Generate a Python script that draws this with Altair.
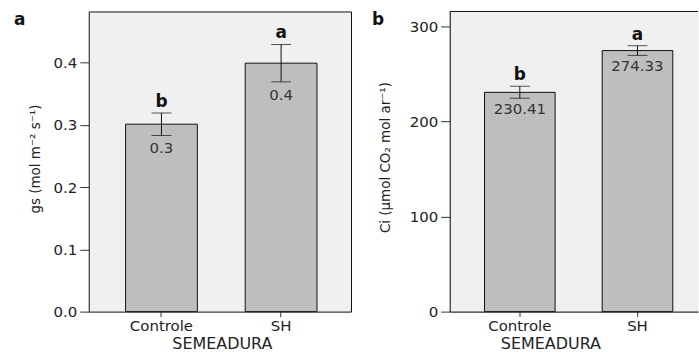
import altair as alt
import pandas as pd

groups = ["Controle", "SH"]
gs_mean = [0.301, 0.399]
gs_se = [0.018, 0.030]
gs_label = ["0.3", "0.4"]
gs_letter = ["b", "a"]

ci_mean = [230.41, 274.33]
ci_se = [6.3, 5.1]
ci_label = ["230.41", "274.33"]
ci_letter = ["b", "a"]

panel_tags = ["a", "b"]
gs_ticks = [0.0, 0.1, 0.2, 0.3, 0.4]
ci_ticks = [0, 100, 200, 300]

FONT = "DejaVu Sans"


def panel(mean, se, labels, letters, tag, ytitle, ydomain, yticks, yfmt,
          width, pad_outer, align, title_x, ytitle_x, ytitle_y, tag_x, tag_y,
          lab_dy, box):
    df = pd.DataFrame({"g": groups, "m": mean, "se": se,
                       "lab": labels, "let": letters})
    base = alt.Chart(df).transform_calculate(
        up="datum.m + datum.se", lo="datum.m - datum.se")
    xenc = alt.X("g:N", sort=groups,
                 scale=alt.Scale(paddingInner=0.4, paddingOuter=pad_outer, align=align),
                 axis=alt.Axis(title="SEMEADURA", labelAngle=0, domain=not box,
                               domainColor="black", tickSize=5, tickColor="#333",
                               labelFontSize=15, labelColor="#222", labelPadding=2,
                               titleFontSize=16, titleFontWeight="normal",
                               titleColor="#222", titlePadding=2, titleX=title_x))
    yscale = alt.Scale(domain=ydomain, nice=False, zero=True)
    yenc = alt.Y("m:Q", scale=yscale,
                 axis=alt.Axis(title=ytitle, values=yticks, format=yfmt, grid=False,
                               domain=not box, domainColor="black", tickSize=9,
                               tickColor="#333", labelFontSize=15, labelColor="#222",
                               labelPadding=3, titleFontSize=13.5,
                               titleFontWeight="normal", titleColor="#222",
                               titleX=ytitle_x, titleY=ytitle_y, titleBaseline="middle",
                               titleAlign="center", titleAngle=270))
    bars = base.mark_bar(color="#bebebe", stroke="#111", strokeWidth=1).encode(
        x=xenc, y=yenc)
    err = base.mark_rule(color="#111", strokeWidth=1).encode(
        x=alt.X("g:N", sort=groups), y=alt.Y("lo:Q"), y2="up:Q")
    cap_hi = base.mark_tick(color="#111", thickness=1, size=20).encode(
        x=alt.X("g:N", sort=groups), y=alt.Y("up:Q"))
    cap_lo = base.mark_tick(color="#111", thickness=1, size=20).encode(
        x=alt.X("g:N", sort=groups), y=alt.Y("lo:Q"))
    let = base.mark_text(baseline="alphabetic", dy=-6, fontSize=17,
                         fontWeight="bold", color="#111").encode(
        x=alt.X("g:N", sort=groups), y=alt.Y("up:Q"), text="let:N")
    lab = base.mark_text(baseline="top", dy=lab_dy, fontSize=15, color="#333").encode(
        x=alt.X("g:N", sort=groups), y=alt.Y("lo:Q"), text="lab:N")
    tagc = alt.Chart(pd.DataFrame({"t": [tag]})).mark_text(
        align="left", baseline="alphabetic", fontSize=17, fontWeight="bold",
        color="#111").encode(x=alt.value(tag_x), y=alt.value(tag_y), text="t:N")
    layers = [bars, err, cap_hi, cap_lo, let, lab, tagc]
    if box:
        view = alt.ViewBackground(fill="#f0f0f0", stroke="#111", strokeWidth=1)
    else:
        view = alt.ViewBackground(fill="#f0f0f0", stroke="transparent")
        top = alt.Chart(pd.DataFrame({"t": [tag]})).mark_rule(
            color="#111", strokeWidth=1).encode(
            x=alt.value(0), x2=alt.value(width), y=alt.value(0))
        layers.append(top)
    return alt.layer(*layers).properties(width=width, height=301, view=view)


pa = panel(gs_mean, gs_se, gs_label, gs_letter, panel_tags[0],
           "gs (mol m⁻² s⁻¹)", [0, 0.482], gs_ticks, ".1f",
           263, 0.296, 0.52, 133.5, -53, 147.5, -75, 14, 6, True)
pb = panel(ci_mean, ci_se, ci_label, ci_letter, panel_tags[1],
           "Ci (µmol CO₂ mol ar⁻¹)", [0, 315.4], ci_ticks, "d",
           249, 0.255, 0.58, 101, -64, 146, -78, 14, 4, False)

chart = alt.hconcat(pa, pb, spacing=99, bounds="flush").properties(
    padding={"left": 13, "top": 10, "right": 0, "bottom": 0},
    background="white",
).configure(font=FONT)

chart.save("out.html", embed_options={"renderer": "svg", "actions": False})
